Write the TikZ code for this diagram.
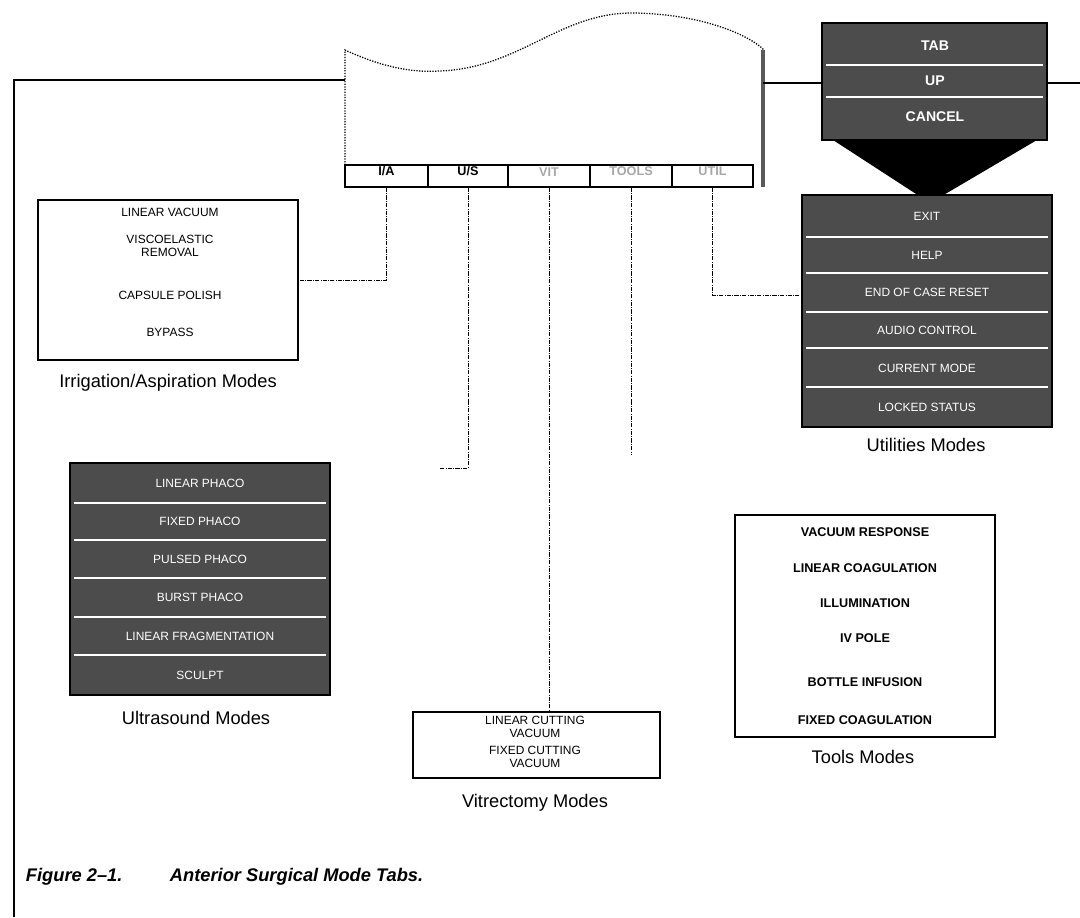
\documentclass[tikz,border=0pt]{standalone}
\usepackage{fontspec}
\setmainfont{Liberation Sans}
\usetikzlibrary{fit}

\begin{document}
\begin{tikzpicture}[x=0.025cm, y=-0.025cm,
                    modebox/.style={draw, line width=1.1pt, inner sep=0pt, fill=white},
                    darkbox/.style={draw, line width=1.1pt, inner sep=0pt, fill=black!70},
                    tabcell/.style={draw, line width=1.2pt, inner sep=0pt, font=\fontsize{9}{10}\selectfont\bfseries},
                    modetext/.style={font=\fontsize{8.5}{9.5}\selectfont, align=center},
                    darktext/.style={modetext, text=white},
                    modelabel/.style={font=\fontsize{13}{15}\selectfont},
                    link/.style={densely dashdotted, line width=0.7pt}]
  \useasboundingbox (0,0) rectangle (1080,917);

  % screen with the mode tabs
  \draw[densely dotted, line width=0.9pt] (345,165) -- (345,50)
    .. controls (380,66) and (410,73) .. (440,71)
    .. controls (520,68) and (560,12) .. (634,13)
    .. controls (700,14) and (748,34) .. (764,50);
  \draw[line width=3pt, black!65] (763,50) -- (763,187);
  \node[tabcell, fit={(345,165) (428,187)}] (tabia) {I/A};
  \node[tabcell, fit={(428,165) (508,187)}] (tabus) {U/S};
  \node[tabcell, fit={(508,165) (590,187)}, text=black!35] (tabvit) {VIT};
  \node[tabcell, fit={(590,165) (672,187)}, text=black!35] (tabtools) {TOOLS};
  \node[tabcell, fit={(672,165) (753,187)}, text=black!35] (tabutil) {UTIL};

  % key stack and pointer
  \node[darkbox, fit={(822,23) (1047,140)}] (keys) {};
  \draw[white, line width=1.5pt] (826,65) -- (1043,65);
  \draw[white, line width=1.5pt] (826,97) -- (1043,97);
  \node[darktext, font=\fontsize{10}{11}\selectfont\bfseries] at (935,46) {TAB};
  \node[darktext, font=\fontsize{10}{11}\selectfont\bfseries] at (935,81) {UP};
  \node[darktext, font=\fontsize{10}{11}\selectfont\bfseries] at (935,117) {CANCEL};
  \fill (833,140) -- (1037,140) -- (930,203) -- cycle;

  % frame
  \draw[line width=1.1pt] (14,917) -- (14,80) -- (345,80);
  \draw[line width=1.1pt] (763,83) -- (keys.west |- 0,83);
  \draw[line width=1.1pt] (keys.east |- 0,83) -- (1080,83);

  % irrigation/aspiration
  \node[modebox, fit={(38,200) (298,360)}] (ia) {};
  \node[modetext] at (170,212) {LINEAR VACUUM};
  \node[modetext] at (170,246) {VISCOELASTIC\\REMOVAL};
  \node[modetext] at (170,295) {CAPSULE POLISH};
  \node[modetext] at (170,332) {BYPASS};
  \node[modelabel] at (168,383) {Irrigation/Aspiration Modes};

  % ultrasound
  \node[darkbox, fit={(70,463) (330,695)}] (us) {};
  \foreach \y in {503,540,578,617,655}
    \draw[white, line width=1.5pt] (74,\y) -- (326,\y);
  \node[darktext] at (200,483) {LINEAR PHACO};
  \node[darktext] at (200,521) {FIXED PHACO};
  \node[darktext] at (200,559) {PULSED PHACO};
  \node[darktext] at (200,597) {BURST PHACO};
  \node[darktext] at (200,636) {LINEAR FRAGMENTATION};
  \node[darktext] at (200,675) {SCULPT};
  \node[modelabel] at (196,718) {Ultrasound Modes};

  % vitrectomy
  \node[modebox, fit={(413,712) (660,778)}] (vit) {};
  \node[modetext] at (535,727) {LINEAR CUTTING\\VACUUM};
  \node[modetext] at (535,757) {FIXED CUTTING\\VACUUM};
  \node[modelabel] at (535,803) {Vitrectomy Modes};

  % tools
  \node[modebox, fit={(735,515) (995,737)}] (tools) {};
  \node[modetext, font=\fontsize{9}{10}\selectfont\bfseries] at (865,532) {VACUUM RESPONSE};
  \node[modetext, font=\fontsize{9}{10}\selectfont\bfseries] at (865,568) {LINEAR COAGULATION};
  \node[modetext, font=\fontsize{9}{10}\selectfont\bfseries] at (865,603) {ILLUMINATION};
  \node[modetext, font=\fontsize{9}{10}\selectfont\bfseries] at (865,638) {IV POLE};
  \node[modetext, font=\fontsize{9}{10}\selectfont\bfseries] at (865,682) {BOTTLE INFUSION};
  \node[modetext, font=\fontsize{9}{10}\selectfont\bfseries] at (865,720) {FIXED COAGULATION};
  \node[modelabel] at (863,757) {Tools Modes};

  % utilities
  \node[darkbox, fit={(802,195) (1052,427)}] (util) {};
  \foreach \y in {237,273,312,348,387}
    \draw[white, line width=1.5pt] (806,\y) -- (1048,\y);
  \node[darktext] at (927,216) {EXIT};
  \node[darktext] at (927,255) {HELP};
  \node[darktext] at (927,292) {END OF CASE RESET};
  \node[darktext] at (927,330) {AUDIO CONTROL};
  \node[darktext] at (927,368) {CURRENT MODE};
  \node[darktext] at (927,407) {LOCKED STATUS};
  \node[modelabel] at (926,445) {Utilities Modes};

  % tab connectors
  \coordinate (usend) at (440,468);
  \coordinate (toolsend) at (633,455);
  \draw[link] (tabia.south) |- (ia.east);
  \draw[link] (tabus.south) |- (usend);
  \draw[link] (tabvit.south) -- (tabvit.south |- vit.north);
  \draw[link] (tabtools.south) -- (tabtools.south |- toolsend);
  \draw[link] (tabutil.south) |- ([yshift=0.4cm]util.west);

  % caption
  \node[anchor=west, font=\fontsize{13}{15}\selectfont\bfseries\itshape] (fignum) at (21,877) {Figure 2--1.};
  \node[anchor=west, font=\fontsize{13}{15}\selectfont\bfseries\itshape] (figtitle) at (165,877) {Anterior Surgical Mode Tabs.};
\end{tikzpicture}
\end{document}
